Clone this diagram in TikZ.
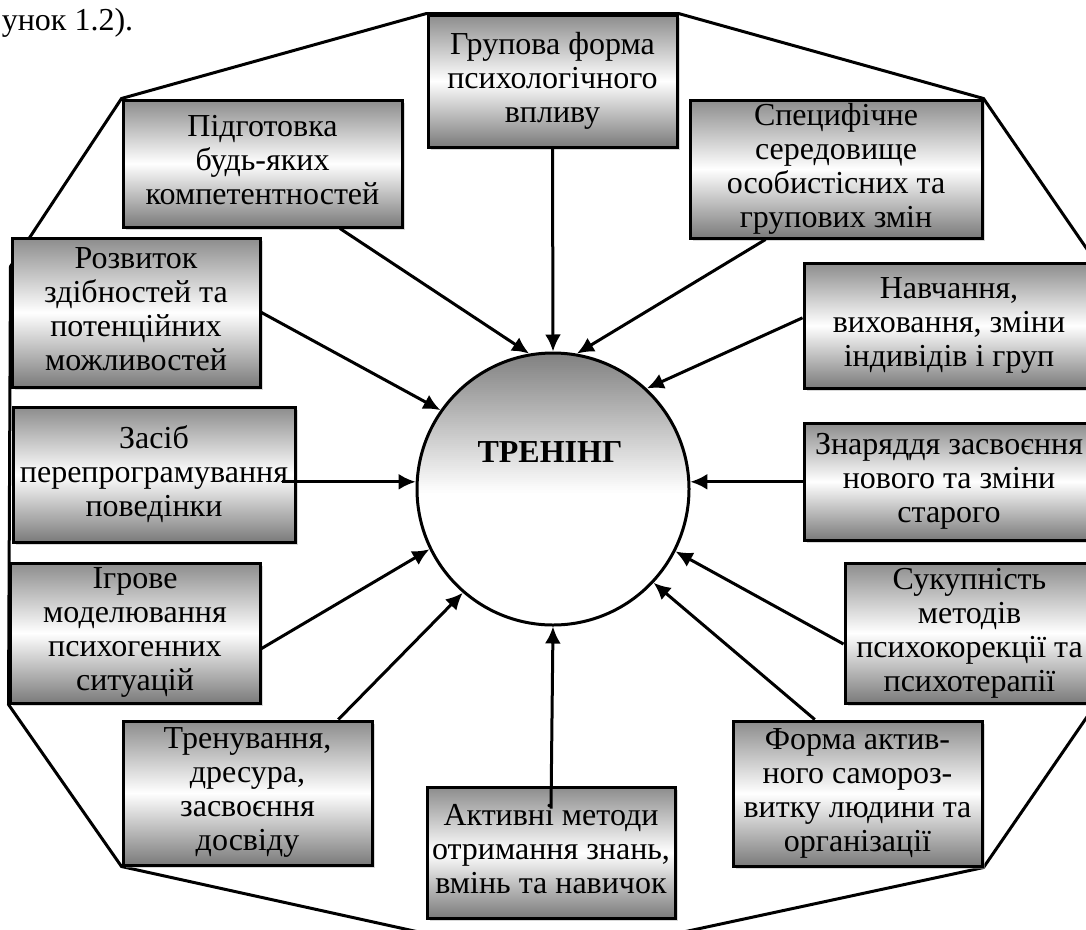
\documentclass[tikz,border=0pt]{standalone}
\usepackage{fontspec}
\setmainfont{Liberation Serif}
\usetikzlibrary{arrows.meta}
\usetikzlibrary{decorations.markings}
\usetikzlibrary{shadows}
\usetikzlibrary{backgrounds}
\usetikzlibrary{calc}
\newcommand{\boxfont}{\fontsize{32}{34}\selectfont}
\tikzset{->/.style = {shorten >= 6pt,
                      decoration={markings,
                                  mark=at position 1 with {\arrow{Latex[length = 17pt, width = 16pt]}}},
                      postaction={decorate}}}
\tikzset{box/.style = {draw, align = center, inner sep = 0,
                       top color = black!45, bottom color = black!52, middle color = white,
                       execute at begin node = {\rule{0pt}{34pt}},
                       execute at end node = {\rule[-7pt]{0pt}{7pt}},
                       drop shadow = {shadow xshift = 3pt, shadow yshift = -3pt, fill = black!30}}}
\tikzset{hub/.style = {draw, circle, inner sep = 0, minimum size = 272pt}}

\begin{document}
\begin{tikzpicture}[x = 1pt, y = -1pt, line width = 3pt, font = \boxfont]
      \useasboundingbox (0, 0) rectangle (1086, 929);
      \clip (0, 0) rectangle (1086, 929);
      \node [anchor = base west] (cap) at (-3, 30) {унок 1.2).};
      \node [hub] (tr) at (553, 489) {};
      \node [font = \boxfont\bfseries] (trname) at (550, 452) {ТРЕНІНГ};
      \node [box, minimum width = 249pt, minimum height = 132pt] (grup) at (552.5, 81)
            {Групова форма\\психологічного\\впливу};
      \node [box, minimum width = 279pt, minimum height = 127pt] (pidg) at (262.5, 163.5)
            {Підготовка\\будь-яких\\компетентностей};
      \node [box, minimum width = 292pt, minimum height = 138pt] (spec) at (836, 169)
            {Специфічне\\середовище\\особистісних та\\групових змін};
      \node [box, minimum width = 248pt, minimum height = 149pt] (rozv) at (136, 312.5)
            {Розвиток\\здібностей та\\потенційних\\можливостей};
      \node [box, minimum width = 290pt, minimum height = 125pt] (navch) at (949, 325.5)
            {Навчання,\\виховання, зміни\\індивідів і груп};
      \node [box, minimum width = 282pt, minimum height = 135pt] (zasib) at (154, 474.5)
            {Засіб\\перепрограмування\\поведінки};
      \node [box, minimum width = 290pt, minimum height = 117pt] (znar) at (949, 481.5)
            {Знаряддя засвоєння\\нового та зміни\\старого};
      \node [box, minimum width = 250pt, minimum height = 140pt] (igr) at (135, 633)
            {Ігрове\\моделювання\\психогенних\\ситуацій};
      \node [box, minimum width = 249pt, minimum height = 140pt] (suk) at (969.5, 633)
            {Сукупність\\методів\\психокорекції та\\психотерапії};
      \node [box, minimum width = 249pt, minimum height = 144pt] (tren) at (247.5, 793)
            {Тренування,\\дресура,\\засвоєння\\досвіду};
      \node [box, minimum width = 248pt, minimum height = 131pt] (aktyv) at (551, 852.5)
            {Активні методи\\отримання знань,\\вмінь та навичок};
      \node [box, minimum width = 249pt, minimum height = 145pt] (forma) at (857.5, 793.5)
            {Форма актив-\\ного самороз-\\витку людини та\\організації};
      % outer frame and the fill of the circle, behind everything
      \begin{scope}[on background layer]
        \draw [line width = 3pt]
              (grup.north west) -- (grup.north east) -- (spec.north east) -- (navch.north east)
              -- (suk.south east) -- (forma.south east) -- ($(aktyv.south east) + (0, 14)$)
              -- ($(aktyv.south west) + (0, 14)$) -- (tren.south west) -- (igr.south west)
              -- ($(rozv.north west) + (0, 30)$) -- (pidg.north west) -- cycle;
        \fill [white] (tr.center) circle (136);
        \clip (tr.center) circle (136);
        \foreach \k in {0, ..., 69} {
          \pgfmathsetmacro{\grey}{50 - 50 * \k / 70}
          \fill [black!\grey] ($(tr.center) + (-140, -137 + 2 * \k)$) rectangle ++(280, 2.5);
        }
      \end{scope}
      \draw [->] (grup.south) -- (tr.90);
      \draw [->] (pidg.-40) -- (tr.100);
      \draw [->] (spec.-135) -- (tr.80);
      \draw [->] (rozv.east) -- (tr.145);
      \draw [->] (navch.177) -- (tr.47);
      \draw [->] ($(zasib.east |- tr.177) + (-15, 0)$) -- (tr.177);
      \draw [->] (znar.west |- tr.3) -- (tr.3);
      \draw [->] (igr.-7) -- (tr.206);
      \draw [->] (suk.185) -- (tr.333);
      \draw [->] (tren.39) -- (tr.229);
      \draw [->] ($(aktyv.north) + (0, 23)$) -- (tr.270);
      \draw [->] (forma.120) -- (tr.317);
    \end{tikzpicture}
\end{document}
